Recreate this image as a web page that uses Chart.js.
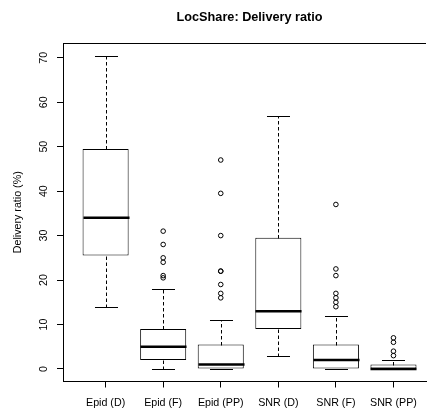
<!DOCTYPE html>
<html>
<head>
<meta charset="utf-8">
<script src="https://cdn.jsdelivr.net/npm/chart.js@4"></script>
<style>
html, body { margin: 0; padding: 0; background: #fff; }
</style>
</head>
<body>
<canvas id="boxChart" width="431" height="408"></canvas>
<script>
// box plot summaries
const categories = ['Epid (D)', 'Epid (F)', 'Epid (PP)', 'SNR (D)', 'SNR (F)', 'SNR (PP)'];
const lowerWhisker = [14, 0, 0, 3, 0, 0];
const q1 = [25.5, 2, 0, 9, 0, 0];
const median = [34, 5, 1, 13, 2, 0];
const q3 = [49.5, 9, 5.5, 29.5, 5.5, 1];
const upperWhisker = [70.5, 18, 11, 57, 12, 2];
const outliers = [
    [],
    [20.5, 21, 24, 25, 28, 31],
    [16, 17, 19, 22, 22, 30, 39.5, 47],
    [],
    [14, 15, 16, 17, 21, 22.5, 37],
    [3, 4, 6, 7]
];
const yTicks = [0, 10, 20, 30, 40, 50, 60, 70];

const FONT = '"Liberation Sans", Arial, Helvetica, sans-serif';

// whiskers, caps, medians and the rest of the frame
const boxPlotLines = {
    id: 'boxPlotLines',
    afterDatasetsDraw(chart) {
        const ctx = chart.ctx;
        const xs = chart.scales.x;
        const ys = chart.scales.y;
        const boxHalf = xs.getPixelForValue(1.4) - xs.getPixelForValue(1);
        const capHalf = boxHalf / 2;
        ctx.save();
        ctx.strokeStyle = '#000';
        categories.forEach((c, i) => {
            const cx = Math.round(xs.getPixelForValue(i + 1)) + 0.5;
            const py = v => Math.round(ys.getPixelForValue(v)) + 0.5;

            ctx.lineWidth = 1;
            ctx.setLineDash([3.5, 2.5]);
            ctx.beginPath();
            ctx.moveTo(cx, py(q3[i]));
            ctx.lineTo(cx, py(upperWhisker[i]));
            ctx.moveTo(cx, py(q1[i]));
            ctx.lineTo(cx, py(lowerWhisker[i]));
            ctx.stroke();
            ctx.setLineDash([]);

            ctx.beginPath();
            ctx.moveTo(cx - capHalf, py(upperWhisker[i]));
            ctx.lineTo(cx + capHalf, py(upperWhisker[i]));
            ctx.moveTo(cx - capHalf, py(lowerWhisker[i]));
            ctx.lineTo(cx + capHalf, py(lowerWhisker[i]));
            ctx.stroke();

            ctx.lineWidth = 2.5;
            ctx.beginPath();
            ctx.moveTo(cx - boxHalf, ys.getPixelForValue(median[i]));
            ctx.lineTo(cx + boxHalf, ys.getPixelForValue(median[i]));
            ctx.stroke();
        });

        // top edge of the plot box
        const area = chart.chartArea;
        ctx.lineWidth = 1;
        ctx.beginPath();
        ctx.moveTo(area.left, Math.round(area.top) + 0.5);
        ctx.lineTo(area.right, Math.round(area.top) + 0.5);
        ctx.stroke();

        // main title, centred over the boxes
        ctx.fillStyle = '#000';
        ctx.font = 'bold 12.7px ' + FONT;
        ctx.textAlign = 'center';
        ctx.textBaseline = 'middle';
        ctx.fillText('LocShare: Delivery ratio', xs.getPixelForValue(3.5), 17);
        ctx.restore();
    }
};

const ctx = document.getElementById('boxChart').getContext('2d');
const boxChart = new Chart(ctx, {
    type: 'bar',
    data: {
        datasets: [
            {
                type: 'bar',
                data: categories.map((c, i) => ({ x: i + 1, y: [q1[i], q3[i]] })),
                backgroundColor: '#fff',
                borderColor: '#000',
                borderWidth: 1,
                borderSkipped: false,
                barPercentage: 0.8,
                categoryPercentage: 1
            },
            {
                type: 'scatter',
                data: outliers.flatMap((arr, i) => arr.map(v => ({ x: i + 1, y: v }))),
                pointStyle: 'circle',
                pointRadius: 2.3,
                pointBackgroundColor: 'rgba(255,255,255,0)',
                pointBorderColor: '#000',
                pointBorderWidth: 1
            }
        ]
    },
    plugins: [boxPlotLines],
    options: {
        responsive: false,
        animation: false,
        layout: { padding: { top: 43, left: 0, right: 0, bottom: 0 } },
        plugins: {
            legend: { display: false },
            tooltip: { enabled: false },
            title: { display: false }
        },
        scales: {
            x: {
                type: 'linear',
                min: 0.26,
                max: 6.565,
                offset: false,
                afterBuildTicks: s => { s.ticks = categories.map((c, i) => ({ value: i + 1 })); },
                afterFit: s => { s.height = 26.5; },
                grid: { drawOnChartArea: false, offset: false, tickLength: 6, color: '#000' },
                border: { display: true, color: '#000' },
                ticks: {
                    color: '#000',
                    padding: 9,
                    maxRotation: 0,
                    autoSkip: false,
                    font: { family: FONT, size: 10.7 },
                    callback: v => categories[v - 1]
                }
            },
            y: {
                type: 'linear',
                min: -2.82,
                max: 73.32,
                afterBuildTicks: s => { s.ticks = yTicks.map(v => ({ value: v })); },
                afterFit: s => { s.width = 63; },
                grid: { drawOnChartArea: false, tickLength: 6, color: '#000' },
                border: { display: true, color: '#000' },
                ticks: {
                    color: '#000',
                    minRotation: 90,
                    maxRotation: 90,
                    crossAlign: 'center',
                    padding: 7,
                    font: { family: FONT, size: 10.7 }
                },
                title: {
                    display: true,
                    text: 'Delivery ratio (%)',
                    color: '#000',
                    padding: { top: 11.6, bottom: 0 },
                    font: { family: FONT, size: 10.7 }
                }
            }
        }
    }
});
</script>
</body>
</html>
